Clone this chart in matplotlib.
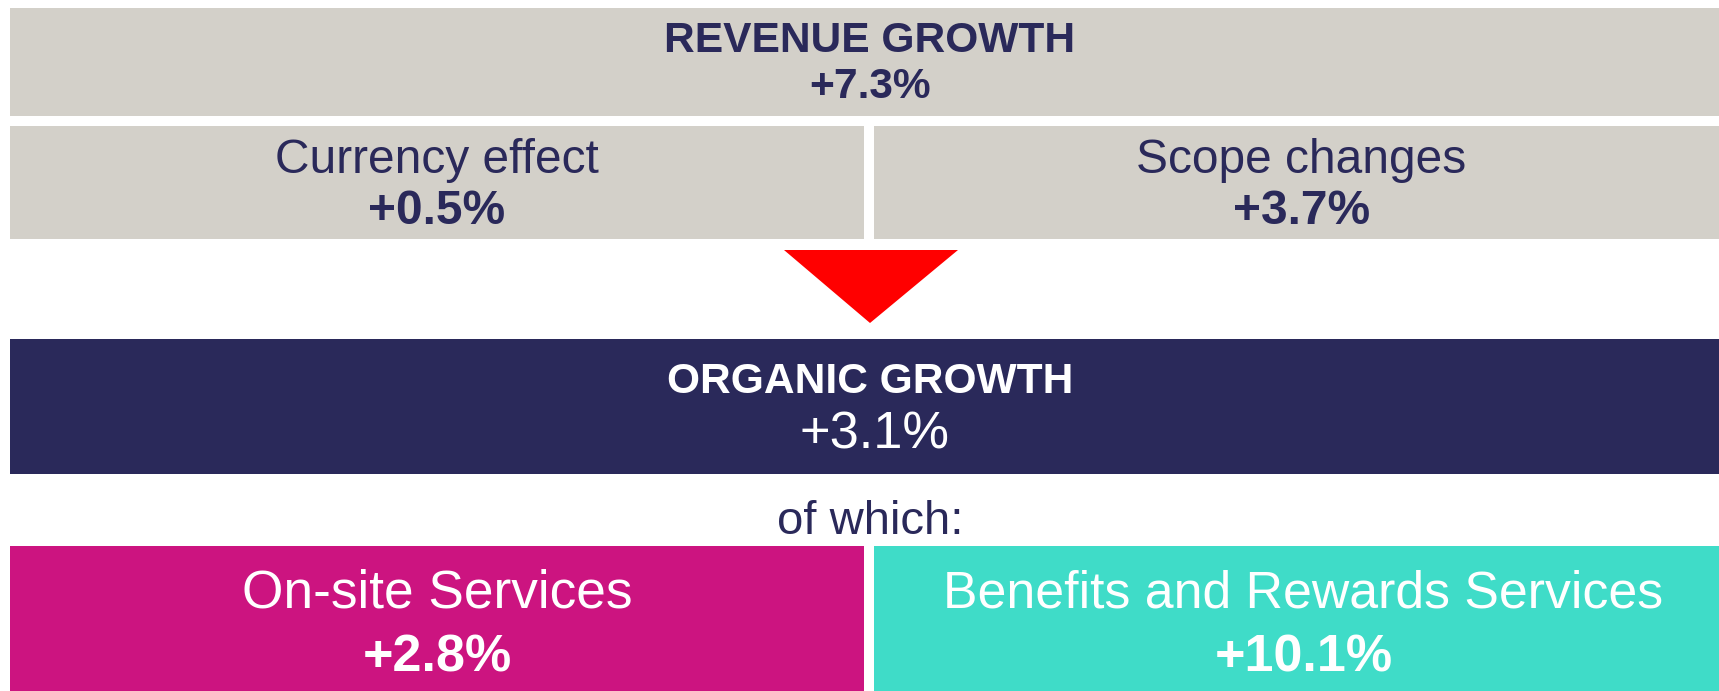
import matplotlib
matplotlib.use("Agg")
import matplotlib.pyplot as plt
from matplotlib.patches import Rectangle, Polygon

# ---- data ----
top_label = "REVENUE GROWTH"
top_value = "+7.3%"
effect_labels = ["Currency effect", "Scope changes"]
effect_values = ["+0.5%", "+3.7%"]
organic_label = "ORGANIC GROWTH"
organic_value = "+3.1%"
of_which_text = "of which:"
segment_labels = ["On-site Services", "Benefits and Rewards Services"]
segment_values = ["+2.8%", "+10.1%"]

# ---- styles ----
GRAY = "#D3D0C9"
NAVY = "#2A295A"
MAGENTA = "#CC1480"
TEAL = "#3FDCC8"
RED = "#FF0000"
FONT = "Liberation Sans"

W, H = 1719, 691
fig = plt.figure(figsize=(W / 100, H / 100), dpi=100)
ax = fig.add_axes([0, 0, 1, 1])
ax.set_xlim(0, W)
ax.set_ylim(H, 0)
ax.axis("off")
fig.patch.set_facecolor("white")


def box(x0, y0, x1, y1, color):
    ax.add_patch(Rectangle((x0, y0), x1 - x0, y1 - y0, facecolor=color,
                           edgecolor="none"))


def txt(x, y, s, size, color, bold=False):
    ax.text(x, y, s, fontsize=size, color=color, ha="center", va="baseline",
            fontfamily=FONT, fontweight="bold" if bold else "normal")


# top box
box(10, 8, W, 116, GRAY)
txt(870, 52, top_label, 30.6, NAVY, bold=True)
txt(870, 98, top_value, 30.6, NAVY, bold=True)

# effects row
cols = [(10, 864), (874, W)]
for (x0, x1), lab, val in zip(cols, effect_labels, effect_values):
    box(x0, 126, x1, 239, GRAY)
    cx = (x0 + x1) / 2 + (5 if x0 > 10 else 0)
    txt(cx, 173, lab, 34.5, NAVY)
    txt(cx, 224, val, 34.5, NAVY, bold=True)

# red arrow
ax.add_patch(Polygon([(784, 250), (958, 250), (870, 323)], closed=True,
                     facecolor=RED, edgecolor="none"))

# organic box
box(10, 339, W, 474, NAVY)
txt(870, 393, organic_label, 30.6, "white", bold=True)
txt(874, 448, organic_value, 37.7, "white")

# of which
txt(870, 534, of_which_text, 34, NAVY)

# segments
seg_colors = [MAGENTA, TEAL]
seg_sizes = [38.3, 37.3]
for (x0, x1), lab, val, c, fs in zip(cols, segment_labels, segment_values,
                                     seg_colors, seg_sizes):
    box(x0, 546, x1, H, c)
    cx = (x0 + x1) / 2 + (7 if x0 > 10 else 0)
    txt(cx, 607, lab, fs, "white")
    txt(cx, 672, val, 37.5, "white", bold=True)

fig.savefig("out.png", dpi=100, facecolor="white")
